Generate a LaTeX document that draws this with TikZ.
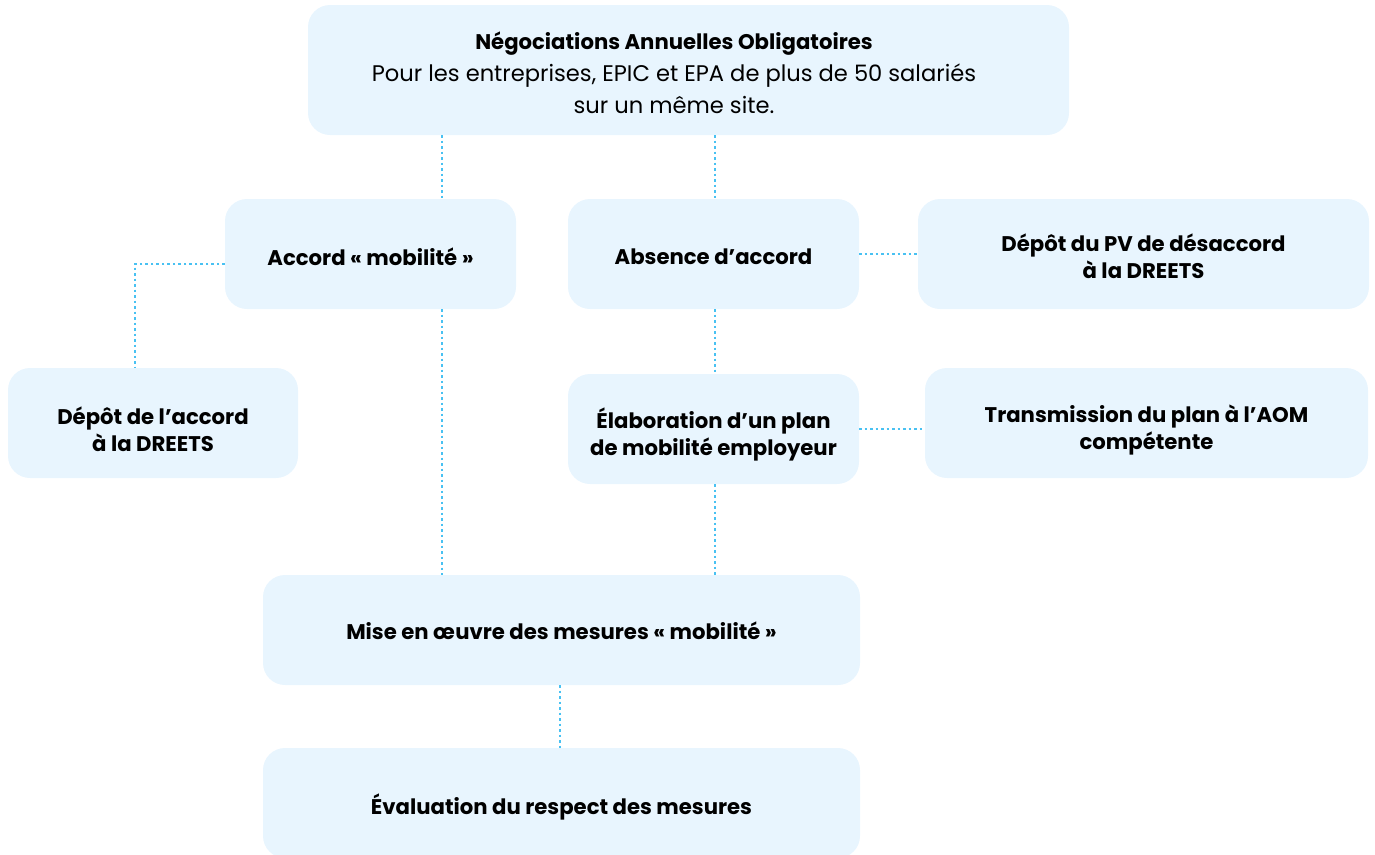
\documentclass[tikz,border=0pt]{standalone}
\usepackage{fontspec}
\setmainfont{Poppins}
\definecolor{boxfill}{HTML}{E8F5FE}
\definecolor{dotline}{HTML}{48C1F2}
\newcommand\lowered[2]{\raisebox{-#1}[\height][\depth]{#2}}
\newcommand\twolines[3]{\lowered{#1}{\begin{tabular}{@{}c@{}}#2\\#3\end{tabular}}}
\begin{document}
\begin{tikzpicture}[x=1pt,y=-1pt,
  box/.style={fill=boxfill,rounded corners=22pt,inner sep=0pt,align=center,font=\fontsize{21.2}{27}\selectfont\bfseries},
  link/.style={draw=dotline,line width=2.5pt,dash pattern=on 2.5pt off 3pt}]
\useasboundingbox (0,0) rectangle (1375,854);
\node[box,minimum width=761pt,minimum height=130pt] (top) at (688.5,70) {};
\node[align=center,inner sep=0pt,font=\fontsize{22.6}{32}\selectfont] (toptext) at (674,73)
  {{\fontsize{21.2}{32}\selectfont\bfseries Négociations Annuelles Obligatoires}\\Pour les entreprises, EPIC et EPA de plus de 50 salariés\\sur un même site.};
\node[box,minimum width=291pt,minimum height=110pt] (acc) at (370.5,254) {\lowered{3pt}{Accord « mobilité »}};
\node[box,minimum width=291pt,minimum height=110pt] (abs) at (713.5,254) {\lowered{3pt}{Absence d’accord}};
\node[box,minimum width=451pt,minimum height=110pt] (pv) at (1143.5,254) {\twolines{6pt}{Dépôt du PV de désaccord}{à la DREETS}};
\node[box,minimum width=290pt,minimum height=110pt] (dep) at (153,423) {\twolines{10pt}{Dépôt de l’accord}{à la DREETS}};
\node[box,minimum width=291pt,minimum height=110pt] (ela) at (713.5,429) {\twolines{7pt}{Élaboration d’un plan}{de mobilité employeur}};
\node[box,minimum width=443pt,minimum height=110pt] (tra) at (1146.5,423) {\twolines{8pt}{Transmission du plan à l’AOM}{compétente}};
\node[box,minimum width=597pt,minimum height=110pt] (mise) at (561.5,630) {\lowered{1pt}{Mise en œuvre des mesures « mobilité »}};
\node[box,minimum width=597pt,minimum height=110pt] (eva) at (561.5,803) {\lowered{4pt}{Évaluation du respect des mesures}};
\draw[link] ([xshift=71.5pt]acc.north |- top.south) -- ([xshift=71.5pt]acc.north);
\draw[link] ([xshift=1.5pt]abs.north |- top.south) -- ([xshift=1.5pt]abs.north);
\draw[link] ([yshift=-10pt]acc.west) -| ([xshift=-18pt]dep.north);
\draw[link] ([xshift=71.5pt]acc.south) -- ([xshift=71.5pt]acc.south |- mise.north);
\draw[link] (abs.east) -- (abs.east -| pv.west);
\draw[link] ([xshift=1.5pt]abs.south) -- ([xshift=1.5pt]ela.north);
\draw[link] (ela.east) -- (ela.east -| tra.west);
\draw[link] ([xshift=1.5pt]ela.south) -- ([xshift=1.5pt]ela.south |- mise.north);
\draw[link] ([xshift=-1.5pt]mise.south) -- ([xshift=-1.5pt]eva.north);
\end{tikzpicture}
\end{document}
